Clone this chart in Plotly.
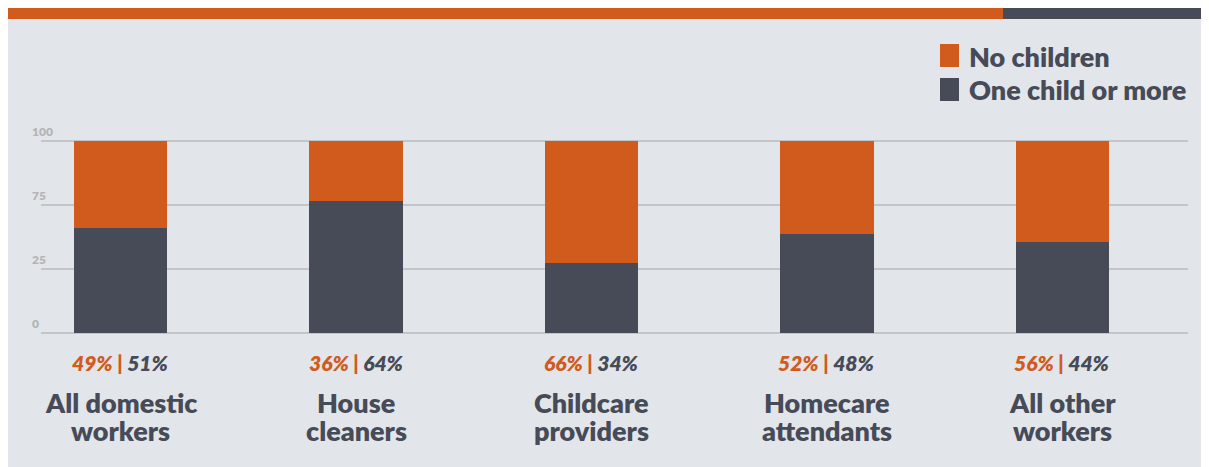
import plotly.graph_objects as go

# ------------------------------------------------------------------ #
# Data                                                                 #
# ------------------------------------------------------------------ #

categories = [
    "All domestic<br>workers",
    "House<br>cleaners",
    "Childcare<br>providers",
    "Homecare<br>attendants",
    "All other<br>workers",
]
no_children_pct = [49, 36, 66, 52, 56]
one_plus_pct = [51, 64, 34, 48, 44]

# segment heights as drawn in the graphic (stack totals 100)
one_plus_bar = [54.6, 68.6, 36.6, 51.5, 47.4]
no_children_bar = [45.4, 31.4, 63.4, 48.5, 52.6]

y_tickvals = [0, 33.3, 66.7, 100]
y_ticktext = ["0", "25", "75", "100"]

# ------------------------------------------------------------------ #
# Style                                                                #
# ------------------------------------------------------------------ #

# page body has an 8px margin, so the figure is 8px smaller than the window
OFF = 8
W, H = 1209 - OFF, 467 - OFF
ML, MR, MT, MB = 41 - OFF, 21, 130, 132
PW, PH = W - ML - MR, H - MT - MB

ORANGE = "#D05B1C"
SLATE = "#464B57"
PANEL = "#E2E5EA"
GRID = "#C3C5C8"
TICK = "#B3B5B8"
FONT = "Lato, 'Open Sans', Arial, sans-serif"


def px_x(p):
    """screen pixel -> paper x"""
    return (p - OFF - ML) / PW


def px_y(p):
    """screen pixel -> paper y"""
    return (H - MB - (p - OFF)) / PH


fig = go.Figure()
xs = list(range(len(categories)))

fig.add_trace(go.Bar(x=xs, y=one_plus_bar, name="One child or more",
                     marker=dict(color=SLATE, line=dict(width=0)), width=0.395))
fig.add_trace(go.Bar(x=xs, y=no_children_bar, name="No children",
                     marker=dict(color=ORANGE, line=dict(width=0)), width=0.395))

shapes = [
    # grey panel
    dict(type="rect", xref="paper", yref="paper", layer="below",
         x0=px_x(8), x1=px_x(1207), y0=px_y(0), y1=px_y(H + OFF + 5),
         fillcolor=PANEL, line=dict(width=0)),
    # top band
    dict(type="rect", xref="paper", yref="paper", layer="below",
         x0=px_x(8), x1=px_x(1003), y0=px_y(0), y1=px_y(19),
         fillcolor=ORANGE, line=dict(width=0)),
    dict(type="rect", xref="paper", yref="paper", layer="below",
         x0=px_x(1003), x1=px_x(1207), y0=px_y(0), y1=px_y(19),
         fillcolor=SLATE, line=dict(width=0)),
    # legend swatches
    dict(type="rect", xref="paper", yref="paper",
         x0=px_x(940), x1=px_x(959), y0=px_y(44), y1=px_y(67),
         fillcolor=ORANGE, line=dict(width=0)),
    dict(type="rect", xref="paper", yref="paper",
         x0=px_x(940), x1=px_x(959), y0=px_y(78), y1=px_y(101),
         fillcolor=SLATE, line=dict(width=0)),
]

annotations = []

# legend text
for label, cy in [("No children", 56), ("One child or more", 90)]:
    annotations.append(dict(
        text=label, xref="paper", yref="paper",
        x=px_x(967), y=px_y(cy), xanchor="left", yanchor="middle",
        showarrow=False, font=dict(family=FONT, size=27, color=SLATE, weight=800),
    ))

# y tick labels sitting above the grid lines
for val, txt in zip(y_tickvals, y_ticktext):
    annotations.append(dict(
        text=txt, xref="paper", yref="y",
        x=px_x(30), y=val, xanchor="left", yanchor="bottom",
        showarrow=False, font=dict(family=FONT, size=12, color=TICK, weight=800),
    ))

# percentage pairs and category names under the bars
for i, cat in enumerate(categories):
    annotations.append(dict(
        text=(f"<span style='color:{ORANGE}'>{no_children_pct[i]}% |</span>"
              f" {one_plus_pct[i]}%"),
        xref="x", yref="paper", x=i, y=px_y(362),
        xanchor="center", yanchor="middle", showarrow=False,
        font=dict(family=FONT, size=21, color=SLATE, weight=800, style="italic"),
    ))
    for j, line in enumerate(cat.split("<br>")):
        annotations.append(dict(
            text=line, xref="x", yref="paper",
            x=i, y=px_y(402 + 28.5 * j), xanchor="center", yanchor="middle",
            showarrow=False, font=dict(family=FONT, size=27, color=SLATE, weight=800),
        ))

fig.update_layout(
    width=W,
    height=H,
    autosize=False,
    margin=dict(l=ML, r=MR, t=MT, b=MB),
    paper_bgcolor="white",
    plot_bgcolor="rgba(0,0,0,0)",
    barmode="stack",
    showlegend=False,
    font=dict(family=FONT, color=SLATE),
    xaxis=dict(range=[-0.3376, 4.533], showticklabels=False, showgrid=False,
               zeroline=False, showline=False, fixedrange=True),
    yaxis=dict(range=[-0.8, 101.5], tickvals=y_tickvals, showticklabels=False,
               showgrid=True, gridcolor=GRID, gridwidth=1.5, zeroline=False,
               showline=False, fixedrange=True),
    shapes=shapes,
    annotations=annotations,
)

fig.write_html("out.html")
